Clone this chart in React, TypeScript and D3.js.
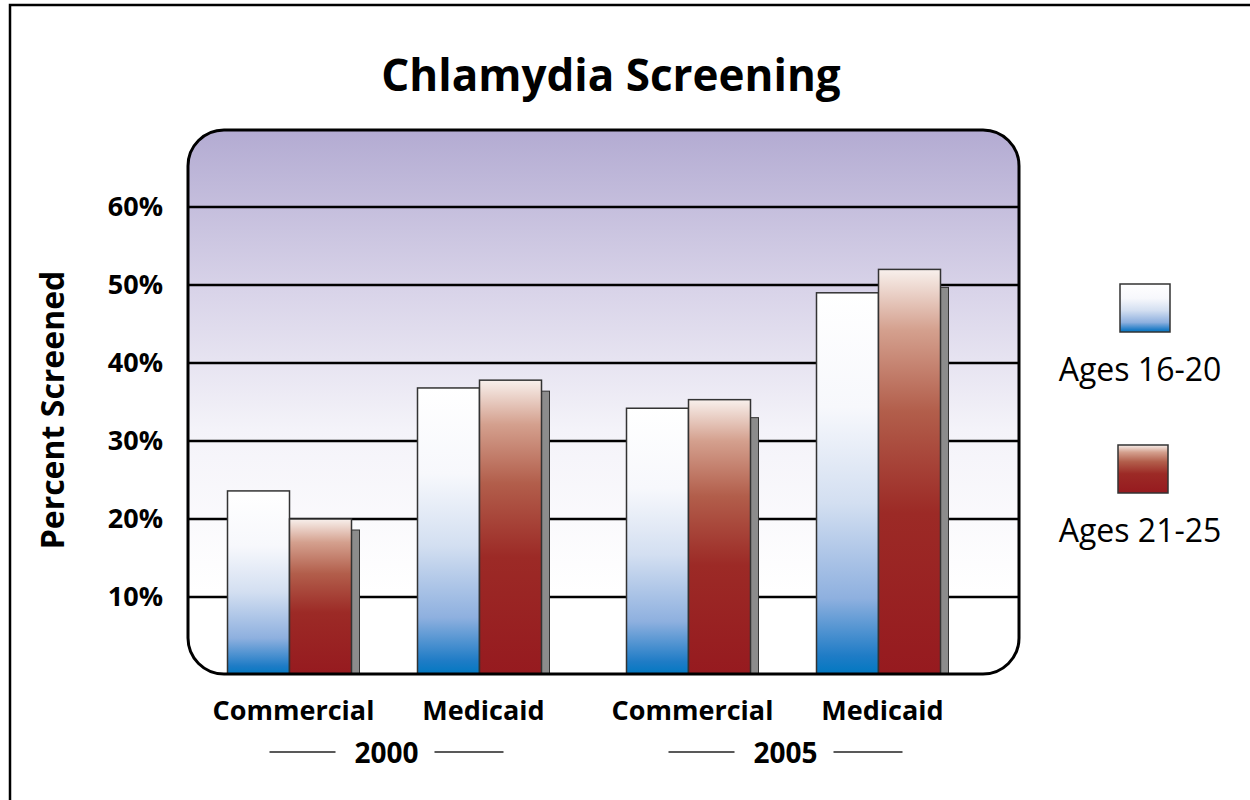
import React from 'react';
import * as d3 from 'd3';

// chart data
const years = ['2000', '2005'];
const payers = ['Commercial', 'Medicaid'];
const ageGroups = ['Ages 16-20', 'Ages 21-25'];
// percent screened, [year][payer] = [16-20, 21-25]
const ages16to20 = [
  [23.6, 36.8],
  [34.2, 49.0],
];
const ages21to25 = [
  [20.0, 37.8],
  [35.3, 52.0],
];
const yTicks = [10, 20, 30, 40, 50, 60];

const width = 1250;
const height = 800;
const plot = { left: 188, right: 1019, top: 130, bottom: 674 };
const FONT = "'Open Sans', 'DejaVu Sans', sans-serif";

export default function App() {
  const y = d3.scaleLinear().domain([0, 60]).range([675, 207]);

  const xYear = d3.scaleBand<string>().domain(years).range([185, 983]).padding(0);
  const xPayer = d3
    .scaleBand<string>()
    .domain(payers)
    .range([0, xYear.bandwidth()])
    .paddingInner(0)
    .paddingOuter(0.05);

  const barW = 62;
  const shadowW = 8;
  // the drop shadow is a little deeper on the 2005 bars
  const shadowDrop = [11, 18];

  const bars: any[] = [];
  years.forEach((yr, yi) => {
    payers.forEach((p, pi) => {
      const cx = (xYear(yr) || 0) + (xPayer(p) || 0) + xPayer.bandwidth() / 2;
      bars.push({
        key: yr + p,
        cx,
        blue: ages16to20[yi][pi],
        red: ages21to25[yi][pi],
        drop: shadowDrop[yi],
        payer: p,
      });
    });
  });

  const r = 36;
  const plotPath = `M${plot.left},${plot.top + r}
    A${r},${r} 0 0 1 ${plot.left + r},${plot.top}
    L${plot.right - r},${plot.top}
    A${r},${r} 0 0 1 ${plot.right},${plot.top + r}
    L${plot.right},${plot.bottom - r}
    A${r},${r} 0 0 1 ${plot.right - r},${plot.bottom}
    L${plot.left + r},${plot.bottom}
    A${r},${r} 0 0 1 ${plot.left},${plot.bottom - r} Z`;

  return (
    <svg
      width={width}
      height={height}
      viewBox={`0 0 ${width} ${height}`}
      style={{ position: 'absolute', left: 0, top: 0, background: '#fff' }}
    >
      <defs>
        <linearGradient id='bg' x1='0' y1='0' x2='0' y2='1'>
          <stop offset='0' stopColor='#b3abd2' />
          <stop offset='0.3' stopColor='#d9d4e9' />
          <stop offset='0.55' stopColor='#f4f3f9' />
          <stop offset='0.85' stopColor='#ffffff' />
        </linearGradient>
        <linearGradient id='blue' x1='0' y1='0' x2='0' y2='1'>
          <stop offset='0' stopColor='#ffffff' />
          <stop offset='0.3' stopColor='#f7f8fc' />
          <stop offset='0.55' stopColor='#d3dff1' />
          <stop offset='0.8' stopColor='#8eb0df' />
          <stop offset='0.95' stopColor='#1f7cc6' />
          <stop offset='1' stopColor='#0078c1' />
        </linearGradient>
        <linearGradient id='red' x1='0' y1='0' x2='0' y2='1'>
          <stop offset='0' stopColor='#f8f0ec' />
          <stop offset='0.15' stopColor='#d4a08e' />
          <stop offset='0.35' stopColor='#b25e4b' />
          <stop offset='0.6' stopColor='#9c2a26' />
          <stop offset='1' stopColor='#961a1f' />
        </linearGradient>
        <clipPath id='plotClip'>
          <path d={plotPath} />
        </clipPath>
      </defs>

      {/* outer frame */}
      <rect x={10} y={5} width={1260} height={820} fill='none' stroke='#000' strokeWidth={2.5} />

      <text x={611} y={91} textAnchor='middle' fontFamily={FONT} fontWeight={700} fontSize={44}>
        Chlamydia Screening
      </text>

      {/* plot area */}
      <path d={plotPath} fill='url(#bg)' />
      <g clipPath='url(#plotClip)'>
        {yTicks.map((t) => (
          <line key={t} x1={plot.left} x2={plot.right} y1={y(t)} y2={y(t)} stroke='#000' strokeWidth={2.5} />
        ))}
        {bars.map((b) => (
          <g key={b.key}>
            <rect
              x={b.cx + barW}
              y={y(b.red) + b.drop}
              width={shadowW}
              height={y(0) - y(b.red) - b.drop}
              fill='#8c8c8c'
              stroke='#333'
              strokeWidth={1}
            />
            <rect
              x={b.cx - barW}
              y={y(b.blue)}
              width={barW}
              height={y(0) - y(b.blue)}
              fill='url(#blue)'
              stroke='#333'
              strokeWidth={1.5}
            />
            <rect
              x={b.cx}
              y={y(b.red)}
              width={barW}
              height={y(0) - y(b.red)}
              fill='url(#red)'
              stroke='#333'
              strokeWidth={1.5}
            />
          </g>
        ))}
      </g>
      <path d={plotPath} fill='none' stroke='#000' strokeWidth={3} />

      {/* y axis labels */}
      {yTicks.map((t) => (
        <text
          key={t}
          x={163}
          y={y(t) + 9}
          textAnchor='end'
          fontFamily={FONT}
          fontWeight={700}
          fontSize={27}
        >
          {t}%
        </text>
      ))}
      <text
        transform='translate(64,410) rotate(-90)'
        textAnchor='middle'
        fontFamily={FONT}
        fontWeight={700}
        fontSize={32}
      >
        Percent Screened
      </text>

      {/* category labels */}
      {bars.map((b) => (
        <text
          key={'l' + b.key}
          x={b.cx + 4}
          y={720}
          textAnchor='middle'
          fontFamily={FONT}
          fontWeight={700}
          fontSize={27}
        >
          {b.payer}
        </text>
      ))}
      {years.map((yr) => {
        const cx = (xYear(yr) || 0) + xYear.bandwidth() / 2 + 2;
        return (
          <g key={yr}>
            <line x1={cx - 117} x2={cx - 51} y1={752} y2={752} stroke='#222' strokeWidth={1.5} />
            <line x1={cx + 48} x2={cx + 117} y1={752} y2={752} stroke='#222' strokeWidth={1.5} />
            <text x={cx} y={763} textAnchor='middle' fontFamily={FONT} fontWeight={700} fontSize={28}>
              {yr}
            </text>
          </g>
        );
      })}

      {/* legend */}
      {ageGroups.map((g, i) => (
        <g key={g} transform={`translate(${1145 - i * 2},${284 + i * 161})`}>
          <rect
            x={-25}
            y={0}
            width={50}
            height={48}
            fill={i === 0 ? 'url(#blue)' : 'url(#red)'}
            stroke='#333'
            strokeWidth={1.5}
          />
          <text
            x={-5 + i * 2}
            y={97}
            textAnchor='middle'
            fontFamily={FONT}
            fontSize={32}
          >
            {g}
          </text>
        </g>
      ))}
    </svg>
  );
}
